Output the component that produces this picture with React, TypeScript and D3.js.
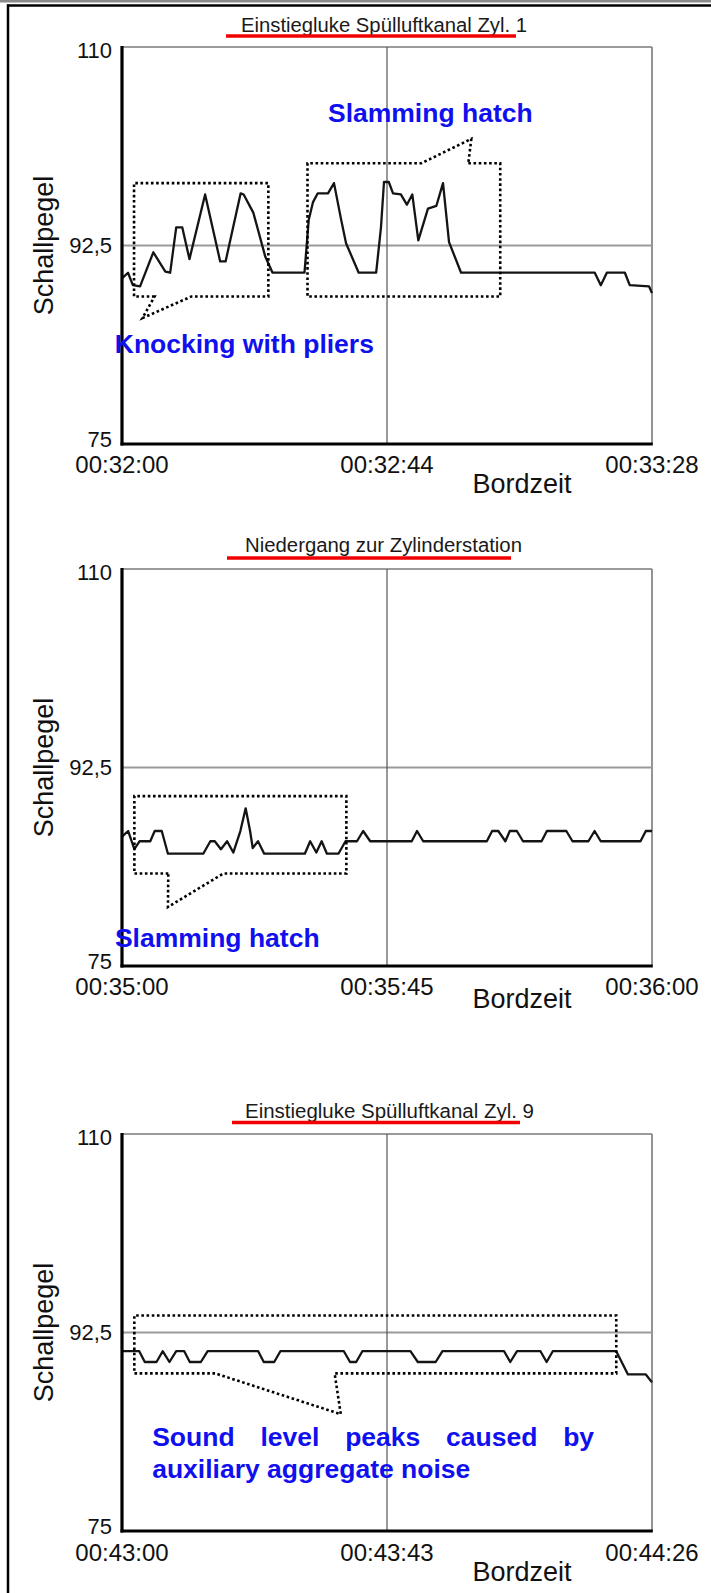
import React, { useRef, useEffect } from 'react';
import * as d3 from 'd3';

// Einstiegluke Spülluftkanal Zyl. 1 — seconds since 00:32:00, sound level
const zyl1Seconds = [0, 1, 1.8, 3, 5.2, 7.2, 8, 9, 10, 11.2, 13.8, 16.3, 17.2, 19.7, 20.2, 21.8, 23.8, 25, 30.3, 31, 31.7, 32.5, 34.2, 35.2, 36.3, 37.2, 39.3, 42.2, 43, 43.5, 44.3, 45, 46.3, 47.3, 48.2, 49.2, 50.8, 52.2, 53.3, 54.3, 56.3, 78.5, 79.5, 80.5, 83.5, 84.3, 87.5, 88];
const zyl1Levels = [89.6, 90.1, 89.0, 88.9, 91.9, 90.2, 90.1, 94.1, 94.1, 91.3, 97.0, 91.1, 91.1, 97.1, 97.0, 95.4, 91.5, 90.1, 90.1, 94.75, 96.3, 97.1, 97.1, 98.0, 95.0, 92.7, 90.1, 90.1, 94.1, 98.1, 98.1, 97.1, 97.0, 96.1, 97.0, 92.95, 95.75, 96.0, 98.0, 92.8, 90.1, 90.1, 89.0, 90.1, 90.1, 89.0, 88.9, 88.3];
const zyl1Ticks = [0, 44, 88];
const zyl1TickLabels = ['00:32:00', '00:32:44', '00:33:28'];

// Niedergang zur Zylinderstation
const niedergangSeconds = [0, 0.7, 1.4, 2.0, 3.2, 3.7, 4.5, 5.2, 9.2, 10.0, 10.5, 11.2, 11.9, 12.6, 13.4, 14.0, 14.5, 14.8, 15.4, 16.1, 20.7, 21.3, 22.0, 22.6, 23.2, 24.5, 25.3, 26.6, 27.3, 28.1, 32.8, 33.4, 34.1, 41.3, 41.9, 42.6, 43.4, 43.9, 44.7, 45.4, 47.5, 48.1, 50.3, 51.0, 52.8, 53.5, 54.2, 58.7, 59.3, 60];
const niedergangLevels = [86.4, 86.9, 85.3, 86.0, 86.0, 86.9, 86.9, 84.9, 84.9, 86.0, 86.0, 85.3, 86.0, 85.0, 86.9, 88.9, 86.9, 85.4, 86.0, 84.9, 84.9, 86.0, 85.0, 86.0, 84.9, 84.9, 86.0, 86.0, 86.9, 86.0, 86.0, 86.9, 86.0, 86.0, 86.9, 86.9, 86.0, 86.9, 86.9, 86.0, 86.0, 86.9, 86.9, 86.0, 86.0, 86.9, 86.0, 86.0, 86.9, 86.9];
const niedergangTicks = [0, 30, 60];
const niedergangTickLabels = ['00:35:00', '00:35:45', '00:36:00'];

// Einstiegluke Spülluftkanal Zyl. 9
const zyl9Seconds = [0, 2.8, 3.7, 5.6, 6.6, 7.7, 8.8, 10.1, 11.0, 12.8, 13.9, 22.1, 23.0, 24.7, 25.7, 36.0, 37.0, 38.0, 39.0, 46.8, 48.0, 50.9, 52.0, 62.0, 63.0, 64.1, 67.9, 68.9, 69.9, 80.2, 82.1, 85.0, 86];
const zyl9Levels = [90.85, 90.85, 89.9, 89.9, 90.85, 89.9, 90.85, 90.85, 89.9, 89.9, 90.85, 90.85, 89.9, 89.9, 90.85, 90.85, 89.9, 89.9, 90.85, 90.85, 89.9, 89.9, 90.85, 90.85, 89.9, 90.85, 90.85, 89.9, 90.85, 90.85, 88.8, 88.8, 88.1];
const zyl9Ticks = [0, 43, 86];
const zyl9TickLabels = ['00:43:00', '00:43:43', '00:44:26'];

const titles = ['Einstiegluke Spülluftkanal Zyl. 1', 'Niedergang zur Zylinderstation', 'Einstiegluke Spülluftkanal Zyl. 9'];
const yTicks = [75, 92.5, 110];
const yTickLabels = ['75', '92,5', '110'];

const W = 711;
const H = 1593;
const plotLeft = 122;
const plotRight = 652;
const plotHeight = 397;
const font = '"Liberation Sans", Arial, Helvetica, sans-serif';
const blue = '#1010ee';

type Box = { t: number[]; db: number[]; side: 'top' | 'bottom'; gap: number[]; tip: number[] };
type Note = { text: string; t: number; db: number; justifyTo?: number };

const panels = [
  {
    title: titles[0], top: 47, seconds: zyl1Seconds, levels: zyl1Levels, xMax: 88,
    ticks: zyl1Ticks, tickLabels: zyl1TickLabels, grid: 44,
    titleX: [241, 527], titleY: 31.5, underline: [226, 516, 36], labelDy: 29, bordzeitDy: 48.5,
    boxes: [
      { t: [2.0, 24.3], db: [88.0, 98.0], side: 'bottom', gap: [5.4, 11.5], tip: [3.4, 86.1] },
      { t: [30.8, 62.8], db: [88.0, 99.75], side: 'top', gap: [49.7, 57.5], tip: [58, 101.9] }
    ] as Box[],
    notes: [
      { text: 'Slamming hatch', t: 34.2, db: 103.4 },
      { text: 'Knocking with pliers', t: -1.2, db: 83.0 }
    ] as Note[]
  },
  {
    title: titles[1], top: 569, seconds: niedergangSeconds, levels: niedergangLevels, xMax: 60,
    ticks: niedergangTicks, tickLabels: niedergangTickLabels, grid: 30,
    titleX: [245, 522], titleY: 551.5, underline: [227, 511, 558], labelDy: 29, bordzeitDy: 42,
    boxes: [
      { t: [1.4, 25.4], db: [83.15, 89.98], side: 'bottom', gap: [5.24, 11.47], tip: [5.2, 80.2] }
    ] as Box[],
    notes: [
      { text: 'Slamming hatch', t: -0.8, db: 76.7 }
    ] as Note[]
  },
  {
    title: titles[2], top: 1134, seconds: zyl9Seconds, levels: zyl9Levels, xMax: 86,
    ticks: zyl9Ticks, tickLabels: zyl9TickLabels, grid: 43,
    titleX: [245, 534], titleY: 1118, underline: [232, 520, 1122.5], labelDy: 29.5, bordzeitDy: 50,
    boxes: [
      { t: [2.0, 80.2], db: [88.9, 94.0], side: 'bottom', gap: [15.1, 34.5], tip: [35.5, 85.3] }
    ] as Box[],
    notes: [
      { text: 'Sound level peaks caused by', t: 4.9, db: 82.5, justifyTo: 76.6 },
      { text: 'auxiliary aggregate noise', t: 4.9, db: 79.64 }
    ] as Note[]
  }
];

const App: React.FC = () => {
  const svgRef = useRef<SVGSVGElement>(null);

  useEffect(() => {
    if (!svgRef.current) return;
    const svg = d3.select(svgRef.current);
    svg.selectAll('*').remove();

    svg.append('rect').attr('width', W).attr('height', H).attr('fill', '#fff');

    // page frame
    svg.append('line').attr('x1', 0).attr('x2', W).attr('y1', 1.2).attr('y2', 1.2)
      .attr('stroke', '#8a8a8a').attr('stroke-width', 2.5);
    svg.append('line').attr('x1', 7).attr('x2', W).attr('y1', 5.5).attr('y2', 5.5)
      .attr('stroke', '#000').attr('stroke-width', 2.5);
    svg.append('line').attr('x1', 8).attr('x2', 8).attr('y1', 4.5).attr('y2', H)
      .attr('stroke', '#000').attr('stroke-width', 2.5);

    panels.forEach(p => {
      const bottom = p.top + plotHeight;
      const x = d3.scaleLinear().domain([0, p.xMax]).range([plotLeft, plotRight]);
      const y = d3.scaleLinear().domain([75, 110]).range([bottom, p.top]);
      const g = svg.append('g');

      // title + red underline
      g.append('text')
        .attr('x', p.titleX[0]).attr('y', p.titleY)
        .attr('textLength', p.titleX[1] - p.titleX[0]).attr('lengthAdjust', 'spacingAndGlyphs')
        .attr('font-family', font).attr('font-size', 20).attr('fill', '#1a1a1a')
        .text(p.title);
      g.append('line')
        .attr('x1', p.underline[0]).attr('x2', p.underline[1])
        .attr('y1', p.underline[2]).attr('y2', p.underline[2])
        .attr('stroke', '#f00000').attr('stroke-width', 3.5);

      // frame: top + right thin grey
      g.append('line').attr('x1', plotLeft).attr('x2', plotRight).attr('y1', p.top).attr('y2', p.top)
        .attr('stroke', '#7a7a7a').attr('stroke-width', 1.6);
      g.append('line').attr('x1', plotRight).attr('x2', plotRight).attr('y1', p.top).attr('y2', bottom)
        .attr('stroke', '#7a7a7a').attr('stroke-width', 1.6);

      // grid
      g.append('line').attr('x1', plotLeft).attr('x2', plotRight)
        .attr('y1', y(92.5)).attr('y2', y(92.5))
        .attr('stroke', '#9a9a9a').attr('stroke-width', 1.8);
      g.append('line').attr('x1', x(p.grid)).attr('x2', x(p.grid))
        .attr('y1', p.top).attr('y2', bottom)
        .attr('stroke', '#555').attr('stroke-width', 1.2);

      // series
      const pts = p.seconds.map((s, i) => [s, p.levels[i]] as [number, number]);
      const line = d3.line<[number, number]>().x(d => x(d[0])).y(d => y(d[1]));
      g.append('path').attr('d', line(pts) || '')
        .attr('fill', 'none').attr('stroke', '#141414').attr('stroke-width', 2.3)
        .attr('stroke-linejoin', 'round');

      // thick left + bottom axes
      g.append('line').attr('x1', plotLeft).attr('x2', plotLeft).attr('y1', p.top - 1).attr('y2', bottom + 1.5)
        .attr('stroke', '#000').attr('stroke-width', 3.2);
      g.append('line').attr('x1', plotLeft - 1.5).attr('x2', plotRight + 0.8).attr('y1', bottom).attr('y2', bottom)
        .attr('stroke', '#000').attr('stroke-width', 3.2);

      // y tick labels (75 sits a little above the axis, 110 a little below the top)
      const yNudge = [-5, 0, 3];
      yTicks.forEach((v, i) => {
        g.append('text')
          .attr('x', 112).attr('y', y(v) + yNudge[i])
          .attr('dy', '0.36em')
          .attr('text-anchor', 'end')
          .attr('font-family', font).attr('font-size', 22).attr('fill', '#111')
          .text(yTickLabels[i]);
      });

      // x tick labels
      p.ticks.forEach((t, i) => {
        g.append('text')
          .attr('x', x(t)).attr('y', bottom + p.labelDy)
          .attr('text-anchor', 'middle')
          .attr('font-family', font).attr('font-size', 24).attr('fill', '#111')
          .text(p.tickLabels[i]);
      });

      g.append('text')
        .attr('x', 522).attr('y', bottom + p.bordzeitDy)
        .attr('text-anchor', 'middle')
        .attr('font-family', font).attr('font-size', 27).attr('fill', '#111')
        .text('Bordzeit');

      g.append('text')
        .attr('transform', `translate(53, ${(p.top + bottom) / 2}) rotate(-90)`)
        .attr('text-anchor', 'middle')
        .attr('font-family', font).attr('font-size', 27).attr('fill', '#111')
        .text('Schallpegel');

      // dotted callout boxes
      p.boxes.forEach(b => {
        const x0 = x(b.t[0]), x1 = x(b.t[1]);
        const yb = y(b.db[0]), yt = y(b.db[1]);
        const tx = x(b.tip[0]), ty = y(b.tip[1]);
        const path = d3.path();
        if (b.side === 'bottom') {
          path.moveTo(x(b.gap[0]), yb);
          path.lineTo(x0, yb); path.lineTo(x0, yt); path.lineTo(x1, yt); path.lineTo(x1, yb);
          path.lineTo(x(b.gap[1]), yb);
        } else {
          path.moveTo(x(b.gap[1]), yt);
          path.lineTo(x1, yt); path.lineTo(x1, yb); path.lineTo(x0, yb); path.lineTo(x0, yt);
          path.lineTo(x(b.gap[0]), yt);
        }
        path.lineTo(tx, ty);
        path.closePath();
        g.append('path').attr('d', path.toString())
          .attr('fill', 'none').attr('stroke', '#000')
          .attr('stroke-width', 2.6).attr('stroke-dasharray', '2.6 2.6');
      });

      // blue annotation text
      p.notes.forEach(n => {
        if (n.justifyTo === undefined) {
          g.append('text')
            .attr('x', x(n.t)).attr('y', y(n.db))
            .attr('font-family', font).attr('font-size', 26.5).attr('font-weight', 'bold')
            .attr('fill', blue)
            .text(n.text);
          return;
        }
        // justified line: spread words evenly between both ends
        const words = n.text.split(' ');
        const nodes = words.map(w => g.append('text')
          .attr('y', y(n.db))
          .attr('font-family', font).attr('font-size', 26.5).attr('font-weight', 'bold')
          .attr('fill', blue)
          .text(w));
        const widths = nodes.map(s => (s.node() as SVGTextElement).getComputedTextLength());
        const start = x(n.t);
        const total = x(n.justifyTo) - start;
        const gapW = (total - d3.sum(widths)) / Math.max(1, words.length - 1);
        let cx = start;
        nodes.forEach((s, i) => {
          s.attr('x', cx);
          cx += widths[i] + gapW;
        });
      });
    });
  }, []);

  return (
    <svg
      ref={svgRef}
      width={W}
      height={H}
      style={{ position: 'absolute', left: 0, top: 0, display: 'block' }}
    />
  );
};

export default App;
